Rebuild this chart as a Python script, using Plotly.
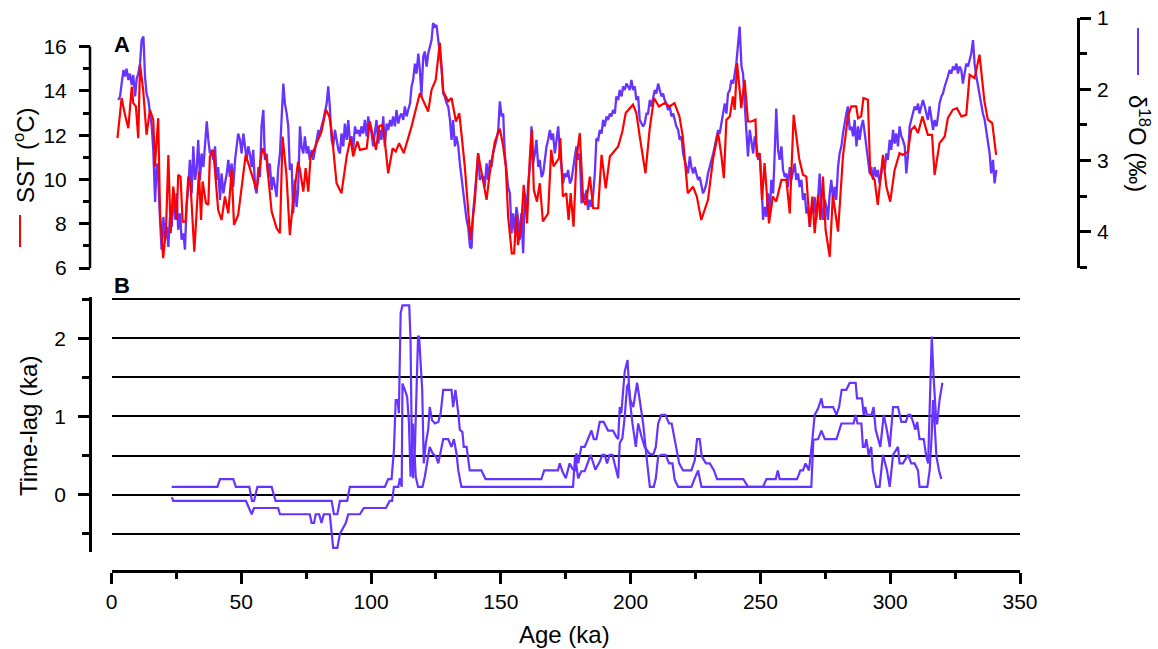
import plotly.graph_objects as go

# ---------------- data ----------------
# Panel A: SST (red), deg C
sst_age = [2.3, 3.9, 5.2, 6.5, 7.8, 8.4, 9.4, 10.3, 11.0, 12.2, 13.5, 14.8, 16.1, 16.7, 18.0, 18.7,
           19.9, 21.0, 21.9, 22.8, 23.8, 25.1, 25.7, 26.6, 27.4, 28.5, 29.6, 30.5, 31.9, 32.8, 33.7,
           34.5, 35.1, 36.4, 37.3, 37.9, 39.2, 41.1, 42.4, 43.7, 45.0, 46.3, 47.2, 48.8, 51.7, 55.9,
           58.1, 59.7, 61.7, 63.6, 64.9, 65.9, 67.4, 68.7, 70.0, 71.9, 72.6, 73.9, 74.8, 75.8, 76.7,
           77.7, 79.6, 80.9, 82.6, 83.9, 84.8, 86.7, 88.6, 90.6, 92.1, 93.1, 94.7, 95.7, 98.3, 99.5,
           100.6, 101.9, 103.1, 104.4, 105.3, 106.6, 108.3, 109.5, 110.8, 112.6, 115.6, 118.8, 122.0,
           123.3, 124.9, 126.5, 127.8, 129.7, 131.0, 132.7, 134.0, 136.1, 138.3, 140.0, 141.2, 143.2,
           144.5, 145.7, 147.7, 149.6, 150.9, 151.9, 152.8, 154.2, 155.1, 156.0, 156.6, 157.9, 158.8,
           160.1, 161.1, 162.0, 162.7, 163.9, 165.0, 166.2, 168.2, 169.4, 170.3, 172.4, 172.9, 173.9,
           175.2, 176.1, 176.9, 178.0, 179.1, 180.4, 181.7, 182.7, 184.3, 185.6, 187.5, 188.8, 190.4,
           192.0, 195.2, 196.8, 198.1, 200.9, 202.2, 203.7, 205.7, 207.3, 209.0, 210.9, 213.1, 215.0,
           216.9, 218.8, 220.1, 222.0, 224.0, 225.5, 227.2, 229.8, 231.7, 233.7, 235.0, 235.9, 236.9,
           238.2, 239.4, 240.1, 241.0, 242.0, 242.6, 243.9, 245.2, 246.5, 248.1, 248.6, 249.7, 250.6,
           251.6, 253.3, 254.8, 256.1, 258.1, 260.0, 261.3, 262.8, 264.9, 266.4, 267.7, 269.0, 270.0,
           270.9, 272.2, 273.1, 274.1, 275.1, 276.7, 277.9, 279.9, 281.8, 283.7, 285.0, 286.9, 287.6,
           288.8, 289.7, 291.4, 292.3, 294.0, 295.2, 297.2, 298.5, 300.0, 301.7, 303.6, 304.8, 306.8,
           308.1, 309.4, 310.7, 312.4, 314.5, 316.1, 317.1, 319.0, 321.0, 322.2, 324.1, 325.7, 327.4,
           329.3, 330.6, 332.5, 334.4, 336.3, 337.6, 339.3, 340.8]
sst_val = [11.87, 13.68, 12.92, 12.32, 14.2, 13.45, 13.3, 11.87, 15.19, 14.05, 12.02, 13.15, 12.7,
           10.59, 12.77, 8.47, 6.44, 7.72, 11.11, 7.57, 9.68, 8.17, 10.21, 10.13, 8.1, 8.1, 10.13,
           9.68, 6.74, 8.32, 10.36, 8.17, 9.91, 8.93, 8.85, 11.04, 11.34, 8.62, 8.17, 9.23, 8.47,
           10.43, 7.95, 8.4, 11.11, 9.53, 11.41, 10.96, 8.55, 7.8, 7.57, 11.94, 10.21, 7.49, 9.08,
           10.81, 10.43, 9.45, 10.51, 9.45, 11.04, 11.26, 11.79, 12.17, 13.15, 12.85, 12.17, 9.83,
           9.38, 11.04, 11.87, 11.04, 11.72, 11.34, 11.41, 12.62, 12.02, 11.34, 12.4, 12.47, 11.72,
           10.28, 11.41, 11.26, 11.64, 11.19, 12.4, 13.9, 13.07, 14.05, 14.5, 16.17, 13.98, 13.53,
           13.68, 12.62, 13.0, 10.59, 7.27, 9.08, 11.19, 9.98, 9.08, 10.28, 11.72, 12.3, 11.49,
           10.59, 8.32, 6.66, 6.66, 8.4, 7.04, 8.02, 9.76, 8.02, 10.89, 12.25, 9.53, 9.0, 9.83, 8.1,
           8.47, 11.34, 10.59, 10.96, 11.87, 9.23, 9.38, 8.17, 9.38, 7.87, 10.89, 12.1, 9.08, 8.85,
           10.13, 8.7, 8.7, 11.11, 9.6, 11.04, 11.49, 12.17, 13.0, 13.38, 13.0, 11.79, 10.28, 12.25,
           13.68, 13.3, 13.45, 13.3, 13.45, 12.85, 11.94, 9.38, 9.68, 9.23, 8.17, 9.08, 10.89, 12.1,
           11.04, 10.06, 12.7, 12.85, 13.75, 13.15, 15.26, 14.05, 13.22, 14.5, 12.62, 12.62, 12.7,
           11.04, 11.19, 9.08, 10.74, 8.02, 9.23, 9.0, 9.98, 9.98, 8.47, 12.92, 10.96, 10.21, 10.13,
           7.87, 9.23, 7.57, 9.3, 8.17, 10.13, 7.72, 6.51, 9.3, 7.64, 11.04, 12.85, 13.3, 13.3,
           12.77, 12.85, 13.68, 13.6, 10.28, 9.98, 8.85, 11.11, 9.68, 9.0, 10.43, 11.19, 11.11,
           11.26, 12.25, 12.4, 12.1, 12.85, 12.02, 12.02, 10.21, 11.64, 11.94, 12.77, 13.15, 13.22,
           12.85, 12.92, 14.73, 14.58, 15.64, 13.53, 12.7, 12.55, 11.11]

# Panel A: benthic d18O (purple), permil
d18o_age = [
    2.6, 3.3, 3.9, 4.6, 5.2, 5.8, 6.5, 7.1, 7.8, 8.4,
    9.1, 9.7, 10.3, 11.0, 11.6, 12.3, 12.9, 13.5, 14.2, 14.8,
    15.5, 16.1, 16.8, 17.4, 18.0, 18.7, 19.3, 20.0, 20.6, 21.3,
    21.9, 22.5, 23.2, 23.8, 24.5, 25.1, 25.7, 26.4, 27.0, 27.7,
    28.3, 28.9, 29.6, 30.2, 30.9, 31.5, 32.2, 32.8, 33.4, 34.1,
    34.7, 35.4, 36.0, 36.7, 37.3, 37.9, 38.6, 39.2, 39.9, 40.5,
    41.1, 41.8, 42.4, 43.1, 43.7, 44.4, 45.0, 45.6, 46.3, 46.9,
    47.6, 48.2, 48.8, 49.5, 50.1, 50.8, 51.4, 52.1, 52.7, 53.3,
    54.0, 54.6, 55.3, 55.9, 56.6, 57.2, 57.8, 58.5, 59.1, 59.8,
    60.4, 61.0, 61.7, 62.3, 63.0, 63.6, 64.2, 64.9, 65.5, 66.2,
    66.8, 67.5, 68.1, 68.7, 69.4, 70.0, 70.7, 71.3, 71.9, 72.6,
    73.2, 73.9, 74.5, 75.2, 75.8, 76.4, 77.1, 77.7, 78.4, 79.0,
    79.7, 80.3, 80.9, 81.6, 82.2, 82.9, 83.5, 84.1, 84.8, 85.4,
    86.1, 86.7, 87.4, 88.0, 88.6, 89.3, 89.9, 90.6, 91.2, 91.8,
    92.5, 93.1, 93.8, 94.4, 95.1, 95.7, 96.3, 97.0, 97.6, 98.3,
    98.9, 99.5, 100.2, 100.8, 101.5, 102.1, 102.8, 103.4, 104.0, 104.7,
    105.3, 106.0, 106.6, 107.3, 107.9, 108.5, 109.2, 109.8, 110.5, 111.1,
    111.7, 112.4, 113.0, 113.7, 114.3, 115.0, 115.6, 116.2, 116.9, 117.5,
    118.2, 118.8, 119.4, 120.1, 120.7, 121.4, 122.0, 122.6, 123.3, 123.9,
    124.6, 125.2, 125.9, 126.5, 127.1, 127.8, 128.4, 129.1, 129.7, 130.4,
    131.0, 131.6, 132.3, 132.9, 133.6, 134.2, 134.8, 135.5, 136.1, 136.8,
    137.4, 138.1, 138.7, 139.3, 140.0, 140.6, 141.3, 141.9, 142.5, 143.2,
    143.8, 144.5, 145.1, 145.8, 146.4, 147.0, 147.7, 148.3, 149.0, 149.6,
    150.3, 150.9, 151.5, 152.2, 152.8, 153.5, 154.1, 154.7, 155.4, 156.0,
    156.7, 157.3, 157.9, 158.6, 159.2, 159.9, 160.5, 161.2, 161.8, 162.4,
    163.1, 163.7, 164.4, 165.0, 165.7, 166.3, 166.9, 167.6, 168.2, 168.9,
    169.5, 170.1, 170.8, 171.4, 172.1, 172.7, 173.4, 174.0, 174.6, 175.3,
    175.9, 176.6, 177.2, 177.9, 178.5, 179.1, 179.8, 180.4, 181.1, 181.7,
    182.3, 183.0, 183.6, 184.3, 184.9, 185.6, 186.2, 186.8, 187.5, 188.1,
    188.8, 189.4, 190.0, 190.7, 191.3, 192.0, 192.6, 193.2, 193.9, 194.5,
    195.2, 195.8, 196.5, 197.1, 197.7, 198.4, 199.0, 199.7, 200.3, 201.0,
    201.6, 202.2, 202.9, 203.5, 204.2, 204.8, 205.4, 206.1, 206.7, 207.4,
    208.0, 208.7, 209.3, 209.9, 210.6, 211.2, 211.9, 212.5, 213.1, 213.8,
    214.4, 215.1, 215.7, 216.4, 217.0, 217.6, 218.3, 218.9, 219.6, 220.2,
    220.8, 221.5, 222.1, 222.8, 223.4, 224.1, 224.7, 225.3, 226.0, 226.6,
    227.3, 227.9, 228.5, 229.2, 229.8, 230.5, 231.1, 231.8, 232.4, 233.0,
    233.7, 234.3, 235.0, 235.6, 236.3, 236.9, 237.5, 238.2, 238.8, 239.5,
    240.1, 240.7, 241.4, 242.0, 242.7, 243.3, 244.0, 244.6, 245.2, 245.9,
    246.5, 247.2, 247.8, 248.5, 249.1, 249.7, 250.4, 251.0, 251.7, 252.3,
    252.9, 253.6, 254.2, 254.9, 255.5, 256.1, 256.8, 257.4, 258.1, 258.7,
    259.4, 260.0, 260.6, 261.3, 261.9, 262.6, 263.2, 263.8, 264.5, 265.1,
    265.8, 266.4, 267.1, 267.7, 268.3, 269.0, 269.6, 270.3, 270.9, 271.5,
    272.2, 272.8, 273.5, 274.1, 274.8, 275.4, 276.0, 276.7, 277.3, 278.0,
    278.6, 279.2, 279.9, 280.5, 281.2, 281.8, 282.5, 283.1, 283.7, 284.4,
    285.0, 285.7, 286.3, 287.0, 287.6, 288.2, 288.9, 289.5, 290.2, 290.8,
    291.4, 292.1, 292.7, 293.4, 294.0, 294.7, 295.3, 295.9, 296.6, 297.2,
    297.9, 298.5, 299.1, 299.8, 300.4, 301.1, 301.7, 302.3, 303.0, 303.6,
    304.3, 304.9, 305.6, 306.2, 306.9, 307.5, 308.1, 308.8, 309.4, 310.1,
    310.7, 311.3, 312.0, 312.6, 313.3, 313.9, 314.5, 315.2, 315.8, 316.5,
    317.1, 317.8, 318.4, 319.0, 319.7, 320.3, 321.0, 321.6, 322.2, 322.9,
    323.5, 324.2, 324.8, 325.5, 326.1, 326.7, 327.4, 328.0, 328.7, 329.3,
    330.0, 330.6, 331.2, 331.9, 332.5, 333.2, 333.8, 334.4, 335.1, 335.7,
    336.4, 337.0, 337.6, 338.3, 338.9, 339.6, 340.2, 340.9]
d18o_val = [
    2.15, 2.10, 1.92, 1.73, 1.82, 1.71, 1.87, 1.78, 1.94, 1.80,
    2.10, 1.85, 1.78, 1.64, 1.31, 1.26, 1.82, 2.06, 2.15, 2.29,
    2.52, 2.85, 3.58, 3.04, 3.23, 3.83, 4.25, 3.79, 4.11, 3.93,
    4.21, 3.79, 3.93, 3.41, 3.83, 3.46, 3.97, 3.74, 4.11, 4.02,
    4.25, 3.65, 3.37, 2.99, 3.46, 2.80, 3.27, 3.13, 2.71, 3.27,
    2.90, 3.09, 2.80, 2.45, 2.71, 2.90, 2.85, 2.99, 2.80, 3.27,
    3.09, 3.55, 3.18, 3.46, 3.32, 3.18, 2.99, 3.23, 3.04, 3.37,
    2.99, 2.80, 2.62, 2.71, 2.90, 2.62, 2.80, 2.99, 2.80, 2.90,
    3.09, 2.85, 3.37, 3.46, 3.09, 3.23, 2.52, 2.29, 2.99, 2.90,
    3.23, 3.04, 3.41, 3.23, 3.37, 3.51, 3.13, 2.90, 2.43, 1.92,
    2.20, 2.34, 2.52, 3.13, 3.04, 3.74, 3.27, 3.65, 3.41, 2.52,
    2.80, 2.90, 2.66, 2.90, 2.80, 2.99, 2.85, 2.99, 2.85, 2.71,
    2.57, 2.66, 2.52, 2.43, 2.34, 2.20, 1.96, 2.24, 2.71, 2.80,
    2.57, 2.71, 2.85, 2.90, 2.62, 2.80, 2.48, 2.71, 2.43, 2.71,
    2.66, 2.85, 2.52, 2.62, 2.57, 2.66, 2.52, 2.62, 2.43, 2.66,
    2.38, 2.52, 2.62, 2.80, 2.62, 2.43, 2.76, 2.57, 2.71, 2.38,
    2.80, 2.48, 2.57, 2.43, 2.52, 2.38, 2.52, 2.29, 2.48, 2.38,
    2.34, 2.43, 2.24, 2.38, 2.29, 2.20, 1.96, 1.87, 1.64, 1.78,
    1.50, 1.73, 2.10, 1.54, 1.47, 1.68, 1.50, 1.40, 1.31, 1.07,
    1.12, 1.10, 1.31, 1.50, 1.68, 2.06, 2.10, 2.20, 2.24, 2.43,
    2.71, 2.43, 2.80, 2.66, 2.80, 3.04, 3.23, 3.51, 3.65, 3.83,
    3.93, 4.21, 4.23, 3.74, 3.46, 3.13, 2.90, 3.27, 3.23, 3.23,
    3.37, 3.04, 3.27, 2.99, 3.09, 2.90, 2.80, 2.71, 2.57,
    2.17, 2.38, 2.34, 2.90, 3.18, 3.37, 3.46, 4.02, 3.74, 4.02,
    3.65, 3.83, 4.11, 3.74, 4.30, 3.46, 3.74, 3.32, 3.09, 2.52,
    3.04, 2.90, 2.71, 3.09, 2.99, 3.23, 3.18, 2.99, 2.80, 2.71,
    2.57, 2.71, 2.62, 2.90, 2.71, 2.52, 2.85, 3.13, 3.32, 3.18,
    3.23, 3.13, 3.32, 3.27, 3.09, 2.99, 2.80, 2.99, 2.90, 3.60,
    3.46, 3.55, 3.41, 3.69, 3.55, 3.65, 3.46, 3.18, 2.69, 2.71,
    2.57, 2.62, 2.43, 2.52, 2.38, 2.43, 2.34, 2.38, 2.29, 2.34,
    2.10, 2.15, 2.01, 2.10, 1.96, 2.01, 1.92, 1.96, 2.01, 1.87,
    2.01, 1.96, 2.15, 2.10, 2.43, 2.48, 2.52, 2.48, 2.34, 2.34,
    2.15, 2.24, 2.10, 2.01, 2.06, 1.92, 2.01, 2.10, 2.06, 2.15,
    2.20, 2.29, 2.24, 2.38, 2.34, 2.43, 2.52, 2.57, 2.71, 2.66,
    2.90, 2.99, 3.09, 3.18, 2.94, 3.09, 3.18, 3.09, 3.18, 3.27,
    3.23, 3.37, 3.46, 3.41, 3.32, 3.18, 3.09, 2.99, 2.90, 2.80,
    2.71, 2.57, 2.62, 2.43, 2.34, 2.20, 2.34, 2.06, 2.01, 1.87,
    1.92, 1.78, 1.64, 1.36, 1.12, 1.68, 1.78, 2.24, 2.66, 2.94,
    2.57, 2.71, 2.90, 2.66, 2.80, 2.99, 2.90, 3.27, 3.83, 3.65,
    3.79, 3.46, 3.74, 3.27, 3.46, 2.90, 2.27, 2.85, 2.99, 2.80,
    3.13, 3.23, 3.18, 3.37, 3.09, 3.27, 3.13, 3.04, 3.27, 3.18,
    3.37, 3.27, 3.55, 3.46, 3.74, 3.65, 3.93, 3.65, 3.74, 3.51,
    3.83, 3.55, 3.18, 3.65, 3.83, 3.55, 3.65, 3.83, 3.46, 3.27,
    3.55, 3.37, 3.55, 3.09, 2.90, 2.80, 2.62, 2.43, 2.34, 2.24,
    2.57, 2.52, 2.66, 2.43, 2.80, 2.52, 2.71, 2.52, 2.43, 2.62,
    2.80, 2.99, 3.18, 3.09, 3.27, 3.09, 3.23, 3.13, 3.32, 3.18,
    2.99, 3.13, 2.90, 2.99, 2.71, 2.85, 2.57, 2.76, 2.62, 2.80,
    2.52, 2.66, 2.71, 2.80, 3.18, 2.90, 2.52, 2.43, 2.34, 2.24,
    2.29, 2.20, 2.34, 2.24, 2.15, 2.24, 2.34, 2.43, 2.24, 2.38,
    2.57, 2.43, 2.52, 2.38, 2.20, 2.10, 2.06, 1.96, 1.87, 1.82,
    1.73, 1.78, 1.68, 1.73, 1.64, 1.78, 1.68, 1.73, 1.92, 1.73,
    1.64, 1.68, 1.59, 1.50, 1.31, 1.64, 1.82, 1.96, 2.10, 2.24,
    2.34, 2.43, 2.57, 2.71, 2.90, 3.18, 2.99, 3.32, 3.13]

# Panel B: time-lag bounds (ka)
lag_hi_age = [23.2, 40.8, 41.8, 46.9, 47.9, 53.1, 54.1, 54.9, 56.2, 61.7, 63.2, 84.8, 85.7, 87.0,
              88.0, 90.8, 91.8, 105.3, 106.6, 107.9, 108.8, 109.5, 110.2, 110.7, 111.4, 112.1,
              114.7, 115.2, 115.7, 116.2, 116.9, 117.5, 118.1, 118.5, 119.7, 120.3, 121.1, 122.0,
              122.6, 123.5, 124.6, 125.9, 126.8, 127.8, 131.0, 131.6, 132.5, 133.6, 134.2, 135.2,
              135.7, 136.8, 138.0, 142.5, 144.1, 165.6, 166.7, 172.0, 172.7, 173.7, 175.0, 176.5,
              177.6, 178.5, 179.1, 179.8, 181.0, 182.3, 183.4, 184.9, 185.8, 186.8, 188.1, 189.6,
              191.3, 193.2, 194.5, 195.2, 195.8, 196.4, 197.7, 198.8, 199.7, 200.7, 202.0, 202.9,
              204.2, 205.4, 207.1, 208.7, 209.7, 210.6, 211.8, 213.4, 214.8, 215.8, 217.0, 218.7,
              220.2, 223.4, 224.7, 225.6, 226.6, 227.4, 229.0, 230.5, 232.1, 233.3, 243.4, 245.2,
              251.0, 252.3, 255.9, 256.7, 257.4, 264.1, 265.4, 266.4, 267.4, 268.7, 270.0, 270.9,
              272.2, 273.5, 274.1, 278.0, 279.3, 280.3, 281.3, 283.1, 284.4, 286.7, 287.2, 289.1,
              289.8, 290.4, 291.0, 292.8, 293.6, 294.4, 296.2, 297.5, 298.7, 299.8, 301.1, 303.0,
              304.3, 306.0, 306.9, 307.8, 308.8, 309.7, 310.4, 311.3, 312.9, 313.9, 314.6, 315.4,
              316.0, 316.7, 317.8, 318.1, 319.0, 320.1]
lag_hi = [0.10, 0.10, 0.20, 0.20, 0.10, 0.10, -0.08, -0.08, 0.10, 0.10, -0.08, -0.08, -0.25, -0.25,
          -0.08, -0.08, 0.10, 0.10, 0.20, 0.20, 0.57, 1.21, 1.21, 1.04, 2.32, 2.42,
          2.42, 1.98, 0.61, 0.21, 0.61, 1.34, 2.02, 2.02, 1.34, 0.40, 0.66, 0.83,
          1.12, 0.95, 0.91, 0.93, 1.04, 1.34, 1.34, 1.12, 1.34, 1.04, 0.83, 0.80,
          0.61, 0.61, 0.31, 0.31, 0.20, 0.20, 0.31, 0.31, 0.40, 0.30, 0.21, 0.40,
          0.33, 0.30, 0.53, 0.40, 0.61, 0.61, 0.71, 0.82, 0.71, 0.71, 0.93, 0.93,
          0.82, 0.82, 0.74, 0.71, 1.12, 1.04, 1.57, 1.72, 1.21, 0.91, 0.61, 0.91,
          0.74, 0.61, 0.53, 0.51, 0.61, 0.91, 1.02, 1.02, 0.91, 0.91, 0.70, 0.40,
          0.31, 0.31, 0.44, 0.71, 0.71, 0.49, 0.40, 0.40, 0.31, 0.20, 0.20, 0.10,
          0.10, 0.20, 0.20, 0.31, 0.20, 0.20, 0.31, 0.31, 0.40, 0.31, 0.70, 1.02,
          1.10, 1.23, 1.12, 1.12, 1.02, 1.12, 1.34, 1.34, 1.43, 1.43, 1.23, 1.23,
          1.02, 1.12, 1.02, 1.02, 1.12, 0.83, 0.61, 1.02, 0.83, 0.61, 1.12, 1.12,
          0.93, 0.93, 1.02, 1.02, 0.93, 0.83, 0.93, 0.71, 0.71, 0.49, 0.40, 1.21,
          2.02, 1.51, 0.91, 0.91, 1.21, 1.43]
lag_lo_age = [23.2, 23.8, 51.8, 53.3, 54.0, 54.9, 64.2, 64.9, 76.4, 77.1, 78.0, 78.7, 80.0, 80.9,
              81.8, 84.1, 85.4, 87.0, 88.0, 90.3, 91.2, 95.7, 97.2, 105.7, 107.2, 108.1, 108.8,
              110.5, 111.1, 111.8, 112.1, 113.0, 113.9, 114.6, 115.2, 115.7, 116.2, 116.8, 117.2,
              118.1, 119.8, 120.7, 121.6, 122.6, 123.7, 125.0, 125.9, 126.5, 127.8, 129.7, 131.0,
              131.9, 132.9, 133.6, 134.8, 177.8, 178.6, 179.8, 181.0, 182.3, 183.4, 184.6, 186.4,
              188.1, 189.1, 190.0, 190.9, 191.9, 193.0, 194.5, 195.2, 195.8, 196.8, 197.7, 198.6,
              199.1, 199.9, 201.0, 202.5, 203.5, 204.8, 206.1, 207.4, 208.9, 209.7, 210.6, 211.8,
              213.5, 214.8, 216.1, 217.0, 218.3, 223.4, 224.7, 226.0, 227.3, 269.6, 270.4, 272.2,
              273.5, 274.8, 279.3, 281.2, 285.9, 286.7, 287.4, 288.9, 289.5, 290.2, 290.8, 291.7,
              292.7, 293.3, 294.6, 295.9, 297.2, 298.7, 299.8, 301.1, 303.0, 303.6, 304.9, 306.9,
              308.1, 309.4, 310.7, 311.3, 314.3, 315.2, 316.0, 316.5, 317.1, 317.8, 318.8, 319.7]
lag_lo = [-0.03, -0.08, -0.08, -0.19, -0.25, -0.17, -0.17, -0.25, -0.25, -0.36, -0.36, -0.25, -0.25,
          -0.36, -0.25, -0.25, -0.68, -0.68, -0.50, -0.36, -0.25, -0.25, -0.17, -0.17, -0.08, -0.08,
          0.10, 0.10, 0.21, 0.10, 1.42, 1.34, 1.25, 0.91, 0.23, 0.61, 0.91, 0.49, 0.23,
          0.10, 0.10, 0.23, 0.40, 0.61, 0.53, 0.49, 0.40, 0.49, 0.71, 0.71, 0.61,
          0.71, 0.53, 0.31, 0.10, 0.10, 0.49, 0.21, 0.30, 0.30, 0.40, 0.51, 0.32,
          0.42, 0.51, 0.51, 0.40, 0.51, 0.51, 0.32, 0.21, 0.66, 0.72, 0.99, 1.38,
          1.42, 1.21, 1.12, 1.43, 1.21, 0.91, 0.49, 0.10, 0.10, 0.21, 0.49, 0.51,
          0.51, 0.40, 0.40, 0.19, 0.10, 0.10, 0.21, 0.31, 0.10, 0.10, 0.70, 0.71,
          0.82, 0.71, 0.71, 0.91, 0.91, 1.02, 0.91, 0.91, 0.61, 0.61, 0.71, 0.51,
          0.61, 0.31, 0.10, 0.10, 0.51, 0.32, 0.10, 0.51, 0.61, 0.40, 0.40, 0.51,
          0.40, 0.40, 0.31, 0.10, 0.10, 0.31, 0.78, 1.21, 0.91, 0.49, 0.31, 0.20]

age_ticks = [0, 50, 100, 150, 200, 250, 300, 350]
age_minor = [25, 75, 125, 175, 225, 275, 325]
sst_ticks = [6, 8, 10, 12, 14, 16]
sst_minor = [7, 9, 11, 13, 15]
d18o_ticks = [1, 2, 3, 4]
d18o_minor = [1.5, 2.5, 3.5, 4.5]
lag_ticks = [0, 1, 2]
lag_minor = [-0.5, 0.5, 1.5, 2.5]

# ---------------- layout helpers ----------------
W, H = 1158, 649
def fx(p):
    return p / W
def fy(p):
    return 1 - p / H

RED = '#ff0000'
PURPLE = '#6633ff'
FONT = 'Liberation Sans, Arial, sans-serif'
TICKFONT = dict(family=FONT, size=21, color='black')

fig = go.Figure()
fig.add_trace(go.Scatter(x=d18o_age, y=d18o_val, xaxis='x2', yaxis='y2', mode='lines',
                         line=dict(color=PURPLE, width=2.3), hoverinfo='skip'))
fig.add_trace(go.Scatter(x=sst_age, y=sst_val, xaxis='x2', yaxis='y3', mode='lines',
                         line=dict(color=RED, width=2.2), hoverinfo='skip'))
fig.add_trace(go.Scatter(x=lag_hi_age, y=lag_hi, xaxis='x', yaxis='y', mode='lines',
                         line=dict(color=PURPLE, width=2.2), hoverinfo='skip'))
fig.add_trace(go.Scatter(x=lag_lo_age, y=lag_lo, xaxis='x', yaxis='y', mode='lines',
                         line=dict(color=PURPLE, width=2.2), hoverinfo='skip'))

xdom = [fx(111.5), fx(1020)]
common_tick = dict(ticks='outside', tickcolor='black', tickwidth=2.5, ticklen=11,
                   tickfont=TICKFONT, showgrid=False, zeroline=False, automargin=False)

fig.update_layout(
    width=W, height=H,
    margin=dict(l=0, r=0, t=0, b=0),
    paper_bgcolor='white', plot_bgcolor='white',
    showlegend=False, hovermode=False,
    xaxis=dict(domain=xdom, range=[0, 350], anchor='free', position=fy(571),
               showline=True, linecolor='black', linewidth=2.5,
               tickvals=age_ticks,
               minor=dict(tickvals=age_minor, ticks='outside', ticklen=6, tickwidth=2.5,
                          tickcolor='black'),
               **common_tick),
    xaxis2=dict(domain=xdom, range=[0, 350], anchor='y2', visible=False),
    yaxis=dict(domain=[fy(552), fy(297)], range=[-0.732, 2.526], anchor='free', position=fx(90),
               showline=True, linecolor='black', linewidth=2.5,
               tickvals=lag_ticks, ticklabelstandoff=8,
               ticks='outside', tickcolor='black', tickwidth=2.5, ticklen=11,
               tickfont=TICKFONT, zeroline=False, automargin=False,
               showgrid=True, gridcolor='black', gridwidth=2.2,
               minor=dict(tickvals=lag_minor, ticks='outside', ticklen=7, tickwidth=2.5,
                          tickcolor='black', showgrid=True, gridcolor='black', gridwidth=2.2)),
    yaxis2=dict(domain=[fy(268), fy(18)], range=[4.506, 1], anchor='free', position=fx(1078),
                side='right', showline=True, linecolor='black', linewidth=2.5,
                tickvals=d18o_ticks, ticklabelstandoff=2,
                minor=dict(tickvals=d18o_minor, ticks='outside', ticklen=7, tickwidth=2.5,
                           tickcolor='black'),
                **common_tick),
    yaxis3=dict(range=[6, 6 + 250 / 22.13], overlaying='y2', anchor='free', position=fx(90),
                side='left', showline=False, ticklabelstandoff=8,
                tickvals=sst_ticks,
                minor=dict(tickvals=sst_minor, ticks='outside', ticklen=7, tickwidth=2.5,
                           tickcolor='black'),
                **common_tick),
)

shapes = [
    # SST axis spine (only spans 6-16)
    dict(type='line', xref='paper', yref='paper', x0=fx(90), x1=fx(90), y0=fy(268.2), y1=fy(46.5),
         line=dict(color='black', width=2.5)),
    # legend keys
    dict(type='line', xref='paper', yref='paper', x0=fx(20), x1=fx(20), y0=fy(247), y1=fy(215),
         line=dict(color=RED, width=2)),
    dict(type='line', xref='paper', yref='paper', x0=fx(1138), x1=fx(1138), y0=fy(75), y1=fy(28),
         line=dict(color=PURPLE, width=2)),
]
fig.update_layout(shapes=shapes)

TITLEFONT = dict(family=FONT, size=24, color='black')
annotations = [
    dict(text='<b>A</b>', x=fx(112), y=fy(45), xanchor='left', yanchor='middle',
         font=dict(family=FONT, size=22, color='black')),
    dict(text='<b>B</b>', x=fx(112), y=fy(285), xanchor='left', yanchor='middle',
         font=dict(family=FONT, size=22, color='black')),
    dict(text='SST (<sup>o</sup>C)', x=fx(24), y=fy(155), textangle=-90,
         xanchor='center', yanchor='middle', font=TITLEFONT),
    dict(text='Time-lag (ka)', x=fx(28), y=fy(426), textangle=-90,
         xanchor='center', yanchor='middle', font=TITLEFONT),
    dict(text='δ<sup>18</sup>O (‰)', x=fx(1139), y=fy(143), textangle=90,
         xanchor='center', yanchor='middle', font=TITLEFONT),
    dict(text='Age (ka)', x=fx(564), y=fy(634), xanchor='center', yanchor='middle',
         font=TITLEFONT),
]
for a in annotations:
    a.update(xref='paper', yref='paper', showarrow=False)
fig.update_layout(annotations=annotations)

fig.write_html('out.html', config={'displayModeBar': False},
               post_script="document.body.style.margin='0';document.body.style.overflow='hidden';")
